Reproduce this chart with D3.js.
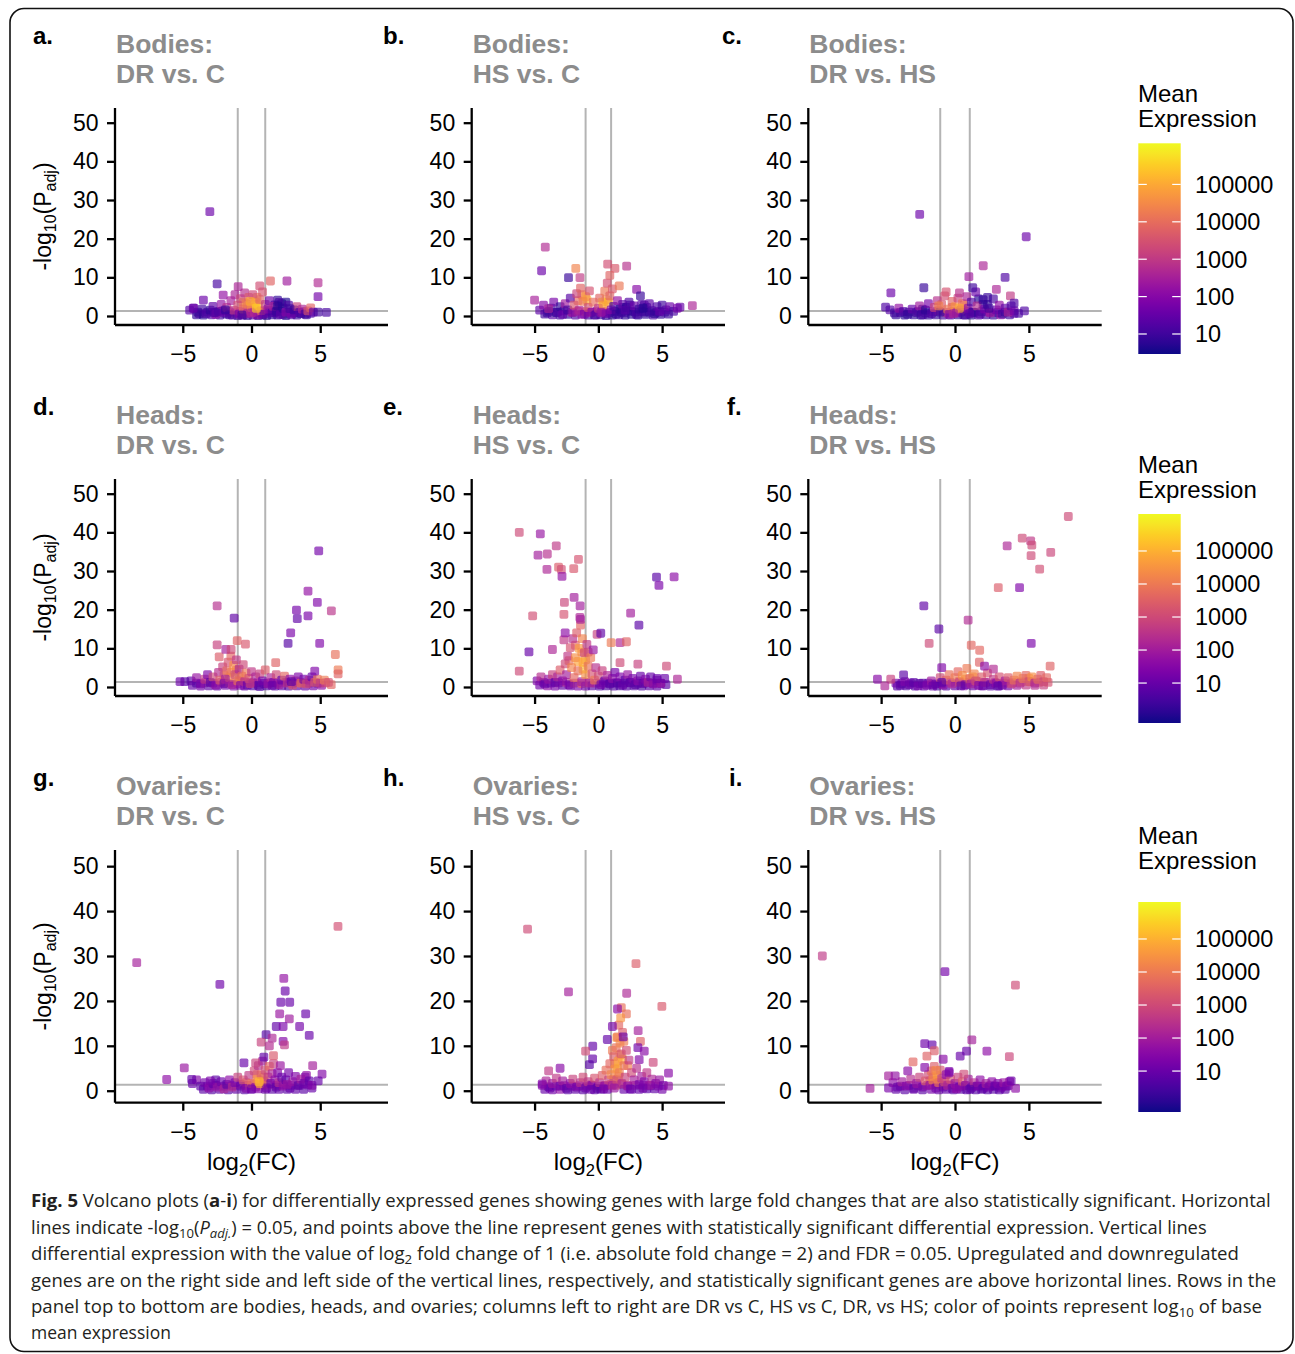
<!DOCTYPE html>
<html><head><meta charset="utf-8">
<script src="https://cdn.jsdelivr.net/npm/d3@7"></script>
<style>body{margin:0;background:#fff}svg{display:block}text{font-family:"Liberation Sans",Arial,Helvetica,sans-serif}</style>
</head><body><svg id="chart" width="1295" height="1354"></svg>
<script>
// ---------- DATA ----------
const panelLetters = ["a.","b.","c.","d.","e.","f.","g.","h.","i."];
const tissues = ["Bodies:","Heads:","Ovaries:"];
const comparisons = ["DR vs. C","HS vs. C","DR vs. HS"];
const xTicks = [-5,0,5];
const yTicks = [0,10,20,30,40,50];
const legendTicks = [10,100,1000,10000,100000];
const padjLine = 0.05;
const fcLines = [-1,1];
// each point: [log2FC, -log10(Padj), log10(mean expression)]
// dense low-significance base of each cloud
const bodiesDRvsCBase = [[-4.0,0.3,0.8],[-3.8,0.6,1.1],[-3.5,0.2,0.7],[-3.2,1.0,0.9],[-2.9,0.3,1.2],[-2.6,0.9,0.7],[-2.3,0.2,1.0],[-2.1,1.3,1.6],[-1.8,0.5,0.8],[-1.6,1.1,2.0],[-1.4,0.2,1.3],[-1.2,0.8,2.4],[-1.0,0.1,1.0],[-0.8,1.2,3.0],[-0.6,0.3,1.6],[-0.5,0.9,2.8],[-0.3,0.1,0.9],[-0.1,1.4,3.4],[0.1,0.2,1.2],[0.3,0.9,2.6],[0.5,0.1,0.8],[0.6,1.2,3.6],[0.8,0.3,1.0],[1.0,1.0,2.2],[1.1,0.1,0.7],[1.3,1.4,1.0],[1.5,0.3,0.8],[1.7,0.9,1.2],[1.9,0.2,0.9],[2.1,1.2,0.8],[2.3,0.4,1.1],[2.5,0.1,0.7],[2.7,1.0,0.9],[2.9,0.3,1.2],[3.1,0.8,0.8],[3.3,0.2,1.0],[3.6,0.6,0.7],[3.8,1.1,1.4],[4.0,0.3,0.9],[4.3,0.7,1.1],[1.7,2.9,0.6],[2.2,3.2,0.7],[2.5,3.6,0.6],[1.9,4.1,0.8],[-0.3,2.5,3.0],[0.4,4.8,4.4],[-0.6,3.6,5.1],[0.2,3.0,4.0]];
const bodiesHSvsCBase = [[-4.2,0.5,1.0],[-3.9,1.2,0.8],[-3.6,0.3,1.3],[-3.3,0.9,0.7],[-3.0,0.2,1.0],[-2.7,1.3,1.6],[-2.4,0.4,0.8],[-2.1,1.0,2.4],[-1.8,0.2,1.2],[-1.6,1.2,3.0],[-1.3,0.4,2.0],[-1.0,1.1,3.6],[-0.8,0.2,1.0],[-0.6,0.9,2.6],[-0.3,0.2,0.9],[-0.1,1.3,2.2],[0.2,0.3,1.0],[0.4,1.0,2.8],[0.6,0.1,0.8],[0.9,0.9,1.4],[1.1,0.2,0.7],[1.3,1.2,0.9],[1.6,0.3,1.0],[1.8,1.0,0.7],[2.1,0.2,0.8],[2.3,1.3,1.1],[2.6,0.4,0.7],[2.9,1.0,0.9],[3.1,0.2,0.7],[3.4,1.2,1.0],[3.7,0.4,0.8],[4.0,1.0,0.7],[4.3,0.2,1.1],[4.6,1.0,0.9],[4.9,0.4,0.8],[5.2,1.0,1.1],[5.5,0.5,0.9],[1.9,2.2,0.9],[2.5,2.8,0.8],[3.6,2.8,1.0],[-1.3,5.5,4.6],[-0.9,4.2,5.2],[0.6,4.2,4.6],[0.3,3.6,5.5],[-1.6,4.0,4.0]];
const bodiesDRvsHSBase = [[-4.0,0.3,0.8],[-3.7,0.9,1.1],[-3.4,0.2,0.7],[-3.1,1.0,1.0],[-2.8,0.3,0.8],[-2.5,1.2,1.3],[-2.3,0.2,0.7],[-2.0,0.8,1.1],[-1.8,0.2,0.8],[-1.5,1.1,1.6],[-1.3,0.3,0.9],[-1.1,1.3,2.4],[-0.8,0.2,1.0],[-0.6,0.9,2.8],[-0.3,0.2,1.2],[-0.1,1.2,3.0],[0.2,0.3,0.8],[0.4,1.0,2.2],[0.7,0.2,1.0],[0.9,1.2,1.6],[1.1,0.2,0.7],[1.3,0.9,0.9],[1.6,0.2,1.2],[1.8,1.1,0.8],[2.1,0.3,1.0],[2.3,1.0,2.0],[2.6,0.2,0.8],[2.9,0.9,1.1],[3.1,0.3,2.2],[3.4,1.0,0.8],[3.7,0.3,1.0],[4.0,0.7,1.4],[-0.2,2.2,4.0],[0.6,2.8,4.4],[1.6,4.4,0.7],[1.9,3.0,0.8],[-2.2,1.8,0.7]];
const headsDRvsCBase = [[-4.3,0.4,1.0],[-4.0,1.0,0.7],[-3.7,0.2,1.2],[-3.4,1.1,2.2],[-3.1,0.3,0.9],[-2.8,1.0,1.6],[-2.5,0.2,1.0],[-2.2,1.2,2.6],[-1.9,0.4,1.2],[-1.6,1.0,3.0],[-1.3,0.2,1.4],[-1.0,0.9,2.2],[-0.8,1.5,3.4],[-0.5,0.2,0.9],[-0.2,1.2,2.6],[0.1,0.3,0.7],[0.4,1.1,1.8],[0.6,0.1,0.6],[0.9,0.9,1.0],[1.1,0.3,0.7],[1.4,1.1,1.4],[1.7,0.2,0.8],[1.9,1.0,2.0],[2.2,0.3,0.9],[2.5,1.2,1.2],[2.7,0.2,0.7],[3.0,1.0,1.4],[3.3,0.3,0.9],[3.6,1.1,2.4],[3.9,0.2,1.0],[4.2,1.0,1.8],[4.5,0.3,1.2],[4.8,1.0,0.9],[5.1,0.4,1.6],[5.4,1.1,3.0],[5.8,0.6,3.6],[-1.5,3.8,4.6],[-1.1,4.4,3.8],[-2.0,3.0,4.2],[-0.9,2.4,4.8]];
const headsHSvsCBase = [[-4.6,0.5,1.2],[-4.3,1.2,0.9],[-4.0,0.3,1.6],[-3.7,1.0,0.8],[-3.4,0.2,1.3],[-3.1,1.1,1.8],[-2.8,0.4,0.9],[-2.5,1.2,2.4],[-2.2,0.3,1.1],[-1.9,1.0,3.0],[-1.6,0.2,1.4],[-1.3,0.9,3.4],[-1.0,0.2,1.2],[-0.7,1.2,2.6],[-0.5,0.3,0.8],[-0.2,1.0,2.0],[0.1,0.2,0.7],[0.4,1.1,1.2],[0.6,0.3,0.6],[0.9,1.0,0.9],[1.2,0.2,0.7],[1.4,1.1,1.0],[1.7,0.3,0.6],[2.0,1.0,0.8],[2.2,0.2,0.7],[2.5,1.1,0.9],[2.8,0.3,0.7],[3.1,1.0,0.8],[3.4,0.2,0.6],[3.7,1.1,1.0],[4.0,0.3,0.8],[4.3,1.0,0.7],[4.6,0.2,0.9],[4.9,0.9,1.2],[5.3,0.6,0.8],[-1.6,6.6,4.8],[-1.3,9.0,4.4],[-1.0,7.0,5.0],[-1.8,10.8,3.6],[-1.2,4.6,5.4],[-2.3,6.8,3.8],[-0.8,9.0,3.0]];
const headsDRvsHSBase = [[-3.9,0.2,0.8],[-3.6,0.9,1.0],[-3.3,0.3,0.7],[-3.0,1.0,1.1],[-2.7,0.2,0.8],[-2.4,0.9,0.7],[-2.1,0.2,1.0],[-1.8,1.0,0.8],[-1.5,0.6,1.2],[-1.2,0.2,0.7],[-0.9,0.8,1.0],[-0.6,0.2,0.8],[-0.3,1.2,2.4],[0,0.3,1.0],[0.3,1.5,3.2],[0.6,0.3,1.4],[0.9,1.2,2.8],[1.2,0.3,1.0],[1.5,1.4,3.0],[1.8,0.3,1.2],[2.1,1.2,2.2],[2.4,0.2,0.8],[2.7,1.1,1.8],[3.0,0.3,1.0],[3.3,1.0,2.6],[3.6,0.3,1.2],[3.9,1.1,3.0],[4.2,0.4,2.0],[4.5,1.3,3.6],[4.8,0.5,2.6],[5.1,1.3,3.8],[5.4,0.4,2.4],[5.7,1.2,3.4],[6.0,0.5,2.8],[6.3,1.2,3.2],[0.7,2.0,4.4],[1.2,2.6,4.6],[5.0,2.2,4.6]];
const ovariesDRvsCBase = [[-3.5,0.3,0.8],[-3.2,1.0,1.0],[-2.9,0.2,0.7],[-2.6,1.2,1.2],[-2.3,0.3,0.8],[-2.0,1.0,1.0],[-1.7,0.2,0.7],[-1.4,1.1,1.4],[-1.1,0.3,0.9],[-0.8,1.4,2.0],[-0.5,0.2,0.8],[-0.3,1.2,2.6],[0,0.3,1.0],[0.2,1.5,3.0],[0.5,0.4,1.4],[0.7,1.2,3.4],[1.0,0.3,1.0],[1.2,1.3,2.4],[1.5,0.3,0.8],[1.8,1.2,1.8],[2.0,0.3,0.9],[2.3,1.3,1.4],[2.6,0.3,0.8],[2.9,1.2,1.2],[3.2,0.3,0.9],[3.5,1.2,1.4],[3.8,0.3,0.8],[4.1,1.3,1.2],[4.4,0.6,1.0],[-2.6,2.4,0.8],[3.9,3.0,1.2],[0.4,3.6,4.0],[0.9,3.0,4.4],[-0.4,1.8,3.8]];
const ovariesHSvsCBase = [[-4.2,0.3,1.0],[-3.9,0.9,0.8],[-3.6,0.2,1.2],[-3.3,1.0,0.8],[-3.0,0.3,1.6],[-2.7,1.1,1.0],[-2.4,0.2,0.8],[-2.1,1.0,1.4],[-1.8,0.3,0.9],[-1.5,1.1,1.8],[-1.2,0.2,0.8],[-0.9,1.0,1.6],[-0.6,1.3,2.2],[-0.3,0.2,0.8],[0,1.0,1.4],[0.2,0.3,0.7],[0.5,1.2,2.4],[0.7,0.3,1.0],[1.0,1.4,3.4],[1.2,2.6,4.0],[1.4,1.2,3.6],[1.6,3.2,4.4],[1.8,1.4,3.0],[2.0,0.3,1.0],[2.3,1.2,2.6],[2.6,0.3,1.0],[2.9,1.2,1.8],[3.2,0.3,0.9],[3.5,1.2,1.4],[3.8,0.4,0.8],[4.1,1.1,1.2],[4.4,0.4,0.9],[4.7,1.0,1.4],[5.0,0.3,1.2],[1.3,6.0,4.8],[1.7,8.0,4.6],[1.5,5.0,5.4],[2.0,11.0,4.0],[1.9,7.0,5.0],[1.1,9.0,4.0],[2.3,5.6,4.2],[1.45,11.8,4.6]];
const ovariesDRvsHSBase = [[-4.0,0.3,0.9],[-3.7,1.0,1.2],[-3.4,0.2,0.8],[-3.1,1.2,1.4],[-2.8,0.3,1.0],[-2.5,1.1,1.6],[-2.2,0.2,0.8],[-1.9,1.2,2.2],[-1.6,0.3,1.2],[-1.4,1.4,3.0],[-1.1,0.2,1.0],[-0.9,1.2,2.4],[-0.6,0.3,0.9],[-0.4,1.3,2.0],[-0.1,0.2,0.8],[0.1,1.0,1.4],[0.4,0.3,0.7],[0.6,1.1,2.6],[0.8,0.2,0.8],[1.2,1.0,1.0],[1.4,0.2,0.7],[1.6,1.0,1.2],[1.8,0.3,0.8],[2.0,1.0,1.0],[2.2,0.2,0.7],[2.4,1.1,1.2],[2.6,0.3,0.8],[2.8,1.0,1.0],[3.0,0.2,0.8],[3.2,1.0,1.4],[3.4,0.3,0.9],[3.6,1.1,1.2],[-1.5,3.0,4.6],[-1.2,2.4,4.0],[-1.7,2.2,3.6]];
// cloud and outlying genes
const bodiesDRvsC = [[-4.5,1.5,1.3],[-4.2,2.0,1.6],[-3.9,1.0,0.9],[-3.6,1.8,1.0],[-3.3,0.6,1.2],[-3.0,1.5,0.8],[-2.8,2.5,1.4],[-2.6,0.4,2.0],[-2.4,1.2,1.0],[-2.2,3.0,2.2],[-2.0,0.8,1.5],[-1.8,2.2,2.8],[-1.6,0.3,1.1],[-1.5,4.0,2.5],[-1.3,1.5,3.0],[-1.2,5.5,2.6],[-1.0,2.8,3.4],[-0.9,0.5,1.8],[-0.8,4.5,3.2],[-0.6,1.8,3.9],[-0.5,6.0,2.8],[-0.4,3.2,4.2],[-0.3,0.6,2.3],[-0.2,4.8,3.6],[0,2.2,4.6],[0.1,5.5,3.3],[0.2,1.0,3.0],[0.3,3.5,4.9],[0.4,0.3,2.0],[0.5,2.6,5.2],[0.6,4.2,3.8],[0.7,1.4,4.0],[0.8,6.2,3.5],[0.9,0.5,1.5],[1.0,3.0,3.0],[1.2,1.8,2.2],[1.3,4.0,1.6],[1.5,0.8,1.2],[1.6,2.5,2.6],[1.8,1.2,0.9],[2.0,3.5,1.1],[2.1,0.4,1.4],[2.3,2.0,0.8],[2.5,1.0,2.0],[2.7,2.8,1.2],[2.9,0.6,1.7],[3.1,1.6,0.9],[3.3,2.4,3.2],[3.5,0.9,1.3],[3.7,1.8,2.6],[3.9,0.5,1.0],[4.1,1.3,3.5],[4.3,2.1,3.8],[4.5,1.0,1.5],[-0.7,0.2,1.0],[-1.9,1.6,0.9],[1.9,2.6,0.7],[0.0,0.8,2.6],[-2.7,0.9,1.2],[2.8,1.9,1.0],[-0.1,3.8,5.0],[0.35,2.0,5.5],
 [-3.03,27.0,1.6],[-2.5,8.3,1.1],[1.38,9.05,3.8],[2.58,9.05,2.4],[4.84,8.6,2.7],[4.84,5.0,1.7],[-2.06,5.4,2.2],[-3.5,4.1,1.6],[-4.24,2.0,1.5],[5.45,0.96,1.1],[4.84,1.0,1.0],[-0.97,7.6,2.6],[0.6,7.8,3.4]];
const bodiesHSvsC = [[-4.6,1.5,1.4],[-4.3,2.8,2.0],[-4.0,0.8,1.0],[-3.7,2.0,0.9],[-3.5,3.6,1.8],[-3.2,1.0,1.2],[-3.0,2.4,0.8],[-2.8,0.4,1.5],[-2.6,3.2,2.4],[-2.4,1.6,1.0],[-2.2,4.6,1.3],[-2.0,0.9,2.2],[-1.9,2.8,3.6],[-1.7,5.8,3.2],[-1.5,1.5,2.6],[-1.4,7.2,3.8],[-1.2,3.8,4.2],[-1.1,0.5,1.8],[-1.0,5.0,4.6],[-0.8,2.2,3.4],[-0.7,6.5,3.5],[-0.5,1.0,2.0],[-0.4,3.6,4.0],[-0.2,0.3,1.2],[0,2.0,3.0],[0.1,4.6,3.8],[0.3,1.2,2.6],[0.4,2.8,4.8],[0.5,6.4,4.2],[0.6,0.6,1.6],[0.7,8.5,3.4],[0.8,3.5,5.0],[0.9,5.2,3.8],[1.0,1.6,2.0],[1.1,7.0,3.6],[1.2,2.5,1.1],[1.4,0.5,0.9],[1.5,4.0,2.2],[1.7,1.8,0.8],[1.9,3.0,1.4],[2.0,0.8,1.0],[2.2,2.2,0.7],[2.4,3.6,1.2],[2.6,1.2,0.9],[2.8,2.6,1.6],[3.0,0.4,1.1],[3.2,1.8,0.8],[3.4,3.0,1.3],[3.6,1.0,1.0],[3.8,2.2,0.9],[4.0,3.2,1.4],[4.2,1.4,1.1],[4.4,0.6,0.8],[4.6,2.4,1.2],[4.8,1.2,1.5],[5.0,2.8,1.0],[5.3,1.6,1.3],[5.6,2.4,1.6],[5.9,1.2,1.1],[6.2,2.0,1.8],[-3.9,1.9,2.6],[0.2,0.9,2.2],[2.1,1.5,1.3],[3.5,2.0,0.7],
 [-4.16,17.8,2.7],[-4.45,11.7,1.6],[-1.77,12.3,4.4],[-2.34,9.9,0.9],[-1.44,9.9,3.0],[0.73,13.4,3.4],[1.3,12.3,3.6],[2.22,12.9,2.8],[0.9,10.5,3.8],[1.64,7.8,4.2],[3.0,6.9,2.0],[7.37,2.7,2.6],[-5.0,4.1,2.5],[6.4,2.3,1.5],[3.3,5.2,0.9]];
const bodiesDRvsHS = [[-4.4,1.6,1.3],[-4.1,0.8,1.0],[-3.8,2.0,2.2],[-3.5,1.2,1.2],[-3.2,0.4,0.8],[-2.9,1.8,1.5],[-2.6,0.9,1.0],[-2.4,2.6,2.4],[-2.2,0.3,1.1],[-2.0,1.5,0.8],[-1.8,3.2,1.8],[-1.6,0.6,1.2],[-1.4,2.2,3.2],[-1.2,4.0,2.8],[-1.0,1.0,0.9],[-0.9,3.0,3.6],[-0.7,5.2,3.4],[-0.5,1.8,4.2],[-0.4,0.4,2.0],[-0.2,3.8,3.8],[0,2.4,4.6],[0.1,0.8,1.8],[0.2,4.6,3.2],[0.4,1.6,3.0],[0.5,3.2,4.0],[0.6,0.3,1.0],[0.8,5.0,2.6],[0.9,2.0,2.2],[1.1,3.6,1.2],[1.2,1.0,0.8],[1.4,6.2,1.6],[1.5,2.6,2.8],[1.7,0.5,1.3],[1.9,4.2,0.9],[2.0,1.8,1.8],[2.2,3.0,0.8],[2.4,0.8,2.4],[2.6,4.4,1.1],[2.8,1.6,1.6],[3.0,2.8,2.2],[3.2,0.5,1.0],[3.4,2.0,1.4],[3.6,1.0,2.6],[3.8,2.6,1.2],[4.0,1.3,1.7],[4.3,0.7,1.1],[-1.1,2.6,4.4],[0.3,2.0,5.0],[-0.1,0.6,2.6],[1.0,0.6,1.4],[2.3,2.0,1.0],
 [-2.39,26.3,1.6],[4.82,20.5,1.6],[1.91,13.0,2.6],[3.39,10.0,1.2],[0.94,10.2,2.4],[-2.11,7.3,0.9],[-4.34,6.0,1.6],[1.2,7.3,1.0],[2.8,6.9,2.6],[3.75,5.2,3.0],[4.0,3.3,1.2],[4.7,1.3,1.2],[-4.7,2.3,1.2],[-0.6,6.2,3.5],[0.3,6.0,2.8],[2.2,4.8,0.9]];
const headsDRvsC = [[-4.4,1.6,0.9],[-4.0,2.4,1.8],[-3.7,0.8,1.2],[-3.4,2.0,2.6],[-3.2,3.2,1.4],[-3.0,1.2,0.8],[-2.8,2.6,3.0],[-2.6,0.5,1.6],[-2.4,3.8,2.4],[-2.3,1.8,3.4],[-2.1,5.2,2.8],[-2.0,0.9,1.0],[-1.8,4.2,3.6],[-1.7,6.4,3.2],[-1.6,2.4,4.2],[-1.5,8.0,3.6],[-1.4,0.6,2.0],[-1.3,5.6,4.4],[-1.2,3.2,3.0],[-1.1,7.0,2.6],[-1.0,1.6,3.8],[-0.9,4.6,2.2],[-0.8,0.4,1.4],[-0.7,2.8,3.6],[-0.6,5.8,3.0],[-0.5,1.4,2.4],[-0.4,3.6,4.0],[-0.3,0.5,1.0],[-0.2,2.2,3.2],[0,4.0,2.6],[0.1,1.0,1.6],[0.3,2.6,2.2],[0.5,0.4,0.8],[0.6,3.4,2.8],[0.8,1.6,1.2],[1.0,4.4,3.4],[1.2,0.8,1.8],[1.4,2.4,2.2],[1.6,1.2,1.4],[1.8,3.2,3.0],[2.0,0.6,2.0],[2.2,1.8,1.0],[2.4,2.8,3.6],[2.6,1.0,2.6],[2.8,2.0,1.6],[3.0,0.5,3.2],[3.2,1.6,2.4],[3.4,2.6,1.4],[3.6,1.0,3.8],[3.8,2.0,1.2],[4.0,0.8,3.0],[4.2,1.8,2.2],[4.4,2.6,1.0],[4.6,1.2,3.4],[4.8,2.0,3.8],[5.0,1.0,2.6],[5.3,1.8,4.0],[5.6,1.2,3.2],[-1.9,2.0,2.0],[-0.1,0.9,2.8],[1.5,0.4,1.0],[2.9,1.4,0.8],
 [4.89,35.2,1.2],[4.11,24.8,1.7],[4.79,21.9,1.4],[3.27,19.9,1.2],[4.11,18.4,1.3],[5.81,19.7,2.5],[3.33,17.7,0.9],[2.85,14.0,1.3],[2.66,11.3,0.7],[4.96,11.3,1.4],[6.1,8.4,3.8],[6.3,4.4,4.0],[6.3,3.4,3.5],[-2.5,21.0,2.4],[-1.26,17.8,0.9],[-2.5,10.9,2.8],[-1.04,12.0,3.5],[-0.44,11.1,3.3],[-2.35,7.8,3.4],[-1.87,9.75,2.0],[-1.48,9.7,3.0],[1.76,6.3,3.5],[4.6,4.1,1.4],[-4.85,1.4,0.7],[-5.2,1.4,1.1]];
const headsHSvsC = [[-4.8,1.6,1.4],[-4.5,2.6,2.4],[-4.2,0.8,1.0],[-3.9,2.0,1.8],[-3.6,3.2,2.8],[-3.4,1.2,0.9],[-3.2,2.6,2.2],[-3.0,4.4,3.4],[-2.8,1.6,1.4],[-2.6,6.0,3.0],[-2.5,3.2,2.0],[-2.4,8.0,2.6],[-2.3,0.6,1.2],[-2.2,10.2,3.2],[-2.1,5.0,4.2],[-2.0,12.5,2.4],[-1.9,2.4,3.6],[-1.8,7.6,4.4],[-1.7,14.0,3.4],[-1.6,4.2,3.8],[-1.5,10.0,4.6],[-1.4,16.0,3.6],[-1.3,1.4,2.0],[-1.25,12.5,4.2],[-1.2,6.4,4.8],[-1.1,8.8,3.0],[-1.0,3.2,4.4],[-0.9,11.0,2.6],[-0.8,5.4,3.8],[-0.7,1.0,2.2],[-0.6,7.6,4.0],[-0.5,3.4,3.2],[-0.4,9.6,1.8],[-0.3,1.8,4.0],[-0.2,5.0,2.4],[0,2.8,3.0],[0.2,0.6,1.2],[0.3,4.2,2.8],[0.5,1.6,1.0],[0.7,3.0,2.2],[0.9,0.8,0.8],[1.1,2.2,1.6],[1.3,3.8,1.2],[1.5,1.0,0.7],[1.7,2.6,1.4],[1.9,0.5,1.0],[2.1,1.8,0.8],[2.3,3.2,1.8],[2.5,1.2,0.9],[2.7,2.2,1.2],[2.9,0.6,0.8],[3.1,1.6,1.6],[3.3,2.8,1.0],[3.5,0.9,0.9],[3.7,2.0,1.4],[3.9,1.2,2.2],[4.1,2.6,1.0],[4.3,0.8,1.6],[4.6,1.8,1.2],[4.9,1.0,1.8],[5.2,2.2,1.0],[-0.1,13.6,2.8],[-1.45,18.0,2.2],[-2.7,12.2,2.6],
 [-6.2,40.0,3.0],[-4.55,39.6,1.8],[-3.3,36.5,2.6],[-4.73,34.1,2.0],[-4.0,34.4,2.4],[-1.56,33.0,3.2],[-3.12,31.0,3.4],[-2.9,30.4,3.1],[-4.03,30.4,2.2],[-2.85,28.6,1.7],[-1.93,30.6,3.3],[-1.9,23.2,2.0],[-2.66,21.9,2.9],[-1.43,21.0,2.0],[-5.15,18.4,3.1],[-2.7,18.8,3.2],[-1.4,17.5,2.0],[4.56,28.4,0.8],[5.94,28.5,1.6],[4.75,26.3,1.3],[2.53,19.1,2.0],[3.18,16.0,0.8],[0.19,13.9,0.9],[1.7,11.5,2.2],[2.2,11.7,3.5],[1.0,11.5,4.0],[-5.44,9.1,1.0],[-3.6,9.7,2.2],[-6.2,4.1,3.0],[5.34,5.4,3.0],[6.2,2.0,2.2],[4.6,2.2,1.0],[3.1,5.9,2.8],[1.7,6.3,3.0],[-2.6,14.0,1.6]];
const headsDRvsHS = [[-4.0,1.0,1.2],[-3.7,0.4,0.8],[-3.4,1.4,1.4],[-3.1,0.6,1.0],[-2.8,1.2,0.8],[-2.5,0.3,1.2],[-2.2,1.0,0.9],[-1.9,0.5,1.4],[-1.6,1.6,2.0],[-1.3,0.8,1.0],[-1.0,2.4,3.0],[-0.8,0.5,1.6],[-0.6,1.8,3.4],[-0.4,3.2,3.8],[-0.2,0.8,2.2],[0,2.4,4.0],[0.2,4.0,3.6],[0.3,1.2,2.8],[0.5,3.0,4.4],[0.7,0.6,1.2],[0.8,4.8,4.0],[1.0,2.2,3.6],[1.1,0.8,2.0],[1.3,3.4,4.2],[1.4,1.6,3.0],[1.6,0.4,1.4],[1.8,2.6,3.4],[2.0,1.2,2.4],[2.2,3.6,3.2],[2.4,0.6,1.0],[2.6,2.0,2.6],[2.8,1.0,1.6],[3.0,2.6,3.2],[3.2,0.5,1.2],[3.4,1.6,2.0],[3.6,2.4,3.4],[3.8,0.8,2.8],[4.0,1.8,3.8],[4.2,2.8,4.2],[4.4,1.0,2.4],[4.6,2.2,4.0],[4.8,3.0,3.6],[5.0,1.4,3.0],[5.2,2.6,4.4],[5.4,1.0,2.2],[5.6,2.0,3.8],[5.8,3.0,3.4],[6.0,1.4,3.0],[6.2,2.4,3.6],[-0.9,1.2,0.8],[0.4,0.3,0.9],[1.9,0.3,1.0],[2.9,0.2,0.8],[-1.5,0.2,1.0],
 [7.67,44.1,3.0],[4.55,38.5,3.0],[5.12,37.8,2.6],[5.2,36.7,3.0],[3.53,36.5,2.2],[6.48,34.8,2.9],[5.15,34.0,3.0],[5.73,30.5,3.1],[2.93,25.7,3.4],[4.37,25.7,1.4],[-2.11,21.0,0.9],[-1.09,15.0,0.8],[0.89,17.3,2.3],[-1.75,11.3,3.0],[5.16,11.3,1.3],[1.1,10.8,3.6],[1.67,9.5,3.6],[1.65,6.4,3.5],[2.6,4.6,2.3],[6.44,5.4,3.5],[-0.9,5.0,1.4],[-3.48,3.1,0.8],[-5.25,2.0,1.5],[-4.35,2.0,2.8],[-4.75,0.3,2.2],[2.0,5.4,1.6]];
const ovariesDRvsC = [[-4.3,1.6,1.0],[-4.0,2.4,1.4],[-3.7,1.0,0.8],[-3.4,1.8,1.2],[-3.1,0.6,1.6],[-2.8,1.6,0.9],[-2.5,0.8,1.8],[-2.2,2.0,1.1],[-2.0,0.4,2.2],[-1.8,1.4,0.8],[-1.6,2.4,1.6],[-1.4,0.8,2.4],[-1.2,1.8,1.2],[-1.0,3.0,2.8],[-0.8,1.0,1.0],[-0.6,2.4,3.2],[-0.4,0.5,1.4],[-0.2,3.4,2.6],[0,1.6,3.6],[0.2,4.4,3.0],[0.3,0.8,1.6],[0.4,2.6,4.2],[0.5,5.6,2.4],[0.6,1.6,4.8],[0.7,3.6,3.4],[0.8,6.6,2.0],[0.9,2.2,3.8],[1.0,4.6,3.0],[1.1,0.6,1.2],[1.2,3.0,2.6],[1.3,5.4,3.6],[1.4,1.6,1.0],[1.5,3.8,2.2],[1.6,6.0,2.8],[1.7,2.4,1.6],[1.8,0.8,0.9],[1.9,4.0,1.4],[2.0,1.8,2.4],[2.1,5.6,1.8],[2.2,3.0,1.0],[2.3,1.0,1.6],[2.5,2.4,0.9],[2.7,4.0,1.2],[2.8,0.6,1.0],[3.0,2.0,1.8],[3.2,3.2,1.4],[3.4,1.2,0.8],[3.6,2.6,2.0],[3.8,1.6,1.1],[4.0,3.4,1.6],[4.2,2.2,0.9],[4.4,1.2,1.4],[-3.0,2.2,1.3],[0.0,0.4,1.2],[2.6,1.4,1.8],[0.55,2.0,5.2],
 [6.29,36.6,3.1],[-8.35,28.5,2.0],[-2.3,23.7,1.1],[2.35,25.0,1.7],[2.45,22.2,1.0],[2.13,19.7,1.0],[2.78,19.7,1.0],[2.05,17.1,1.8],[2.75,16.0,1.9],[3.94,17.1,1.0],[3.5,14.3,1.2],[4.2,12.3,1.0],[1.8,14.3,0.9],[2.3,14.3,1.3],[1.06,12.5,0.7],[1.5,11.7,2.2],[0.7,10.8,2.8],[1.3,10.0,2.3],[2.3,11.0,1.4],[2.4,10.2,2.6],[-4.89,5.1,1.8],[-6.17,2.5,1.6],[-4.35,2.5,0.9],[-0.55,6.2,1.0],[5.13,3.7,1.4],[4.45,5.6,2.0],[4.85,2.2,1.0],[0.9,7.5,0.9],[0.3,6.2,2.8],[1.6,7.8,3.3]];
const ovariesHSvsC = [[-4.4,1.2,1.4],[-4.1,2.2,2.2],[-3.8,0.6,1.0],[-3.6,1.6,1.8],[-3.3,2.8,2.6],[-3.0,1.0,1.2],[-2.8,2.2,2.0],[-2.5,0.5,0.9],[-2.2,1.6,1.6],[-2.0,2.6,2.8],[-1.7,0.8,1.2],[-1.4,1.8,2.4],[-1.2,3.0,3.0],[-1.0,0.6,1.0],[-0.8,2.0,2.6],[-0.5,1.2,1.4],[-0.3,2.8,3.2],[-0.1,0.5,0.8],[0.1,1.8,2.4],[0.3,3.4,3.4],[0.5,1.0,1.6],[0.6,4.6,3.8],[0.8,2.4,2.8],[0.9,6.0,3.6],[1.0,3.6,4.2],[1.1,1.2,2.0],[1.2,7.6,3.4],[1.3,4.8,4.4],[1.4,9.6,3.8],[1.45,2.4,3.0],[1.5,12.0,4.0],[1.55,6.6,4.6],[1.6,14.6,3.6],[1.65,4.0,4.0],[1.7,10.6,4.2],[1.8,8.2,3.2],[1.85,1.6,2.2],[1.9,13.0,3.4],[2.0,5.6,3.8],[2.1,3.0,2.8],[2.2,9.0,3.0],[2.3,1.0,1.6],[2.4,6.8,2.6],[2.6,4.0,3.0],[2.8,2.4,2.0],[3.0,5.0,2.4],[3.2,1.4,1.2],[3.4,3.2,2.0],[3.6,2.0,1.4],[3.8,4.0,2.6],[4.0,1.2,1.8],[4.2,2.6,2.2],[4.5,1.6,1.4],[4.8,2.4,1.8],[5.1,1.2,1.2],[0.4,0.4,1.2],[-0.6,0.3,1.0],[2.5,0.4,1.0],[1.25,0.6,1.8],[3.5,0.6,1.2],
 [-5.55,36.0,3.0],[2.95,28.3,3.4],[-2.34,22.0,2.0],[2.22,21.7,2.2],[4.98,18.8,3.3],[1.8,18.5,3.8],[1.5,18.2,1.5],[2.2,17.1,3.8],[1.75,16.2,4.5],[3.12,13.4,2.0],[1.1,14.3,1.2],[1.95,12.0,1.0],[0.7,11.4,0.9],[-0.44,9.9,0.9],[3.3,11.0,3.5],[3.1,9.6,1.1],[3.6,8.8,1.5],[-1.0,8.8,3.0],[-0.45,7.1,0.9],[-0.7,5.8,0.7],[3.2,6.9,1.4],[4.3,6.3,2.9],[5.5,3.9,1.5],[5.5,1.0,1.6],[-3.0,5.0,1.5],[-3.9,4.4,2.6],[-4.4,1.5,1.4]];
const ovariesDRvsHS = [[-4.2,1.8,1.6],[-3.9,0.8,1.0],[-3.6,2.0,2.0],[-3.3,1.0,1.4],[-3.0,2.6,2.4],[-2.8,0.5,0.9],[-2.6,1.6,1.8],[-2.4,3.0,2.8],[-2.2,0.8,1.2],[-2.0,2.2,3.4],[-1.8,3.6,3.0],[-1.7,1.2,1.6],[-1.6,4.4,3.8],[-1.5,2.4,4.2],[-1.4,5.4,3.4],[-1.3,0.6,1.2],[-1.2,3.4,4.6],[-1.1,1.8,3.8],[-1.0,4.6,3.2],[-0.9,2.8,2.6],[-0.8,0.8,1.0],[-0.7,2.0,3.0],[-0.6,3.6,1.6],[-0.5,1.2,2.2],[-0.3,2.6,3.2],[-0.2,0.5,1.0],[0,1.6,1.8],[0.2,3.0,2.8],[0.3,0.8,1.0],[0.5,2.0,3.4],[0.7,1.2,1.4],[0.9,2.6,2.0],[1.1,0.6,1.0],[1.3,1.8,2.4],[1.5,1.0,1.2],[1.7,2.4,1.6],[1.9,0.5,0.9],[2.1,1.6,2.0],[2.3,0.8,1.2],[2.5,2.0,1.6],[2.7,1.0,0.9],[2.9,1.6,1.4],[3.1,0.6,1.1],[3.3,1.8,1.8],[3.5,1.0,1.2],[3.7,2.0,1.6],[-4.5,0.6,1.3],[-0.4,4.0,1.4],[0.1,0.4,1.6],[1.0,0.3,0.8],
 [-8.98,30.0,2.6],[-0.68,26.5,1.2],[4.09,23.5,3.0],[1.14,11.3,2.0],[-2.05,10.5,1.1],[-1.55,10.2,0.9],[2.16,8.8,1.6],[3.68,7.6,2.9],[0.78,8.8,1.0],[0.35,7.7,1.0],[-1.4,8.9,3.4],[-1.9,7.7,3.5],[-2.84,6.4,3.6],[-0.8,7.0,1.5],[-2.05,5.2,1.4],[-3.2,4.4,1.5],[-4.5,3.3,2.0],[-4.05,3.3,1.7],[-5.75,0.5,2.0],[4.1,0.5,1.6],[3.8,2.2,1.1],[-1.3,4.5,4.3],[-0.4,4.3,1.3],[0.6,3.7,3.0]];
const panelBase = [bodiesDRvsCBase, bodiesHSvsCBase, bodiesDRvsHSBase, headsDRvsCBase, headsHSvsCBase, headsDRvsHSBase, ovariesDRvsCBase, ovariesHSvsCBase, ovariesDRvsHSBase];
const panelData = [bodiesDRvsC, bodiesHSvsC, bodiesDRvsHS, headsDRvsC, headsHSvsC, headsDRvsHS, ovariesDRvsC, ovariesHSvsC, ovariesDRvsHS];
// log10 colour range of each row's colour bar
const colorRange = [[0.465,6.1],[-0.21,6.12],[-0.24,6.12]];
const yRange = [[-2.33,53.8],[-2.33,53.8],[-2.67,53.6]];
const xRange = [-9.93,9.93];

// ---------- LAYOUT ----------
const svg = d3.select("#chart");
svg.append("rect").attr("x",10).attr("y",8.5).attr("width",1283).attr("height",1343).attr("rx",14)
  .attr("fill","#fff").attr("stroke","#111").attr("stroke-width",1.6);

const colPx = [[115,388],[471.7,725],[808.3,1101.7]];
const rowPx = [[108,325],[479,696],[850,1102.7]];
const rowTop = [0,371,742];
const letterX = [33,383,722,33,383,727,33,383,729];
const barPx = [[143.3,354],[514,723],[902,1112]];

const defs = svg.append("defs");
const grad = defs.append("linearGradient").attr("id","plasmaGrad").attr("x1",0).attr("y1",1).attr("x2",0).attr("y2",0);
d3.range(0,1.0001,0.05).forEach(t=>grad.append("stop").attr("offset",t).attr("stop-color",d3.interpolatePlasma(t)));

function subText(sel, parts, subSize, shiftAmt){
  let shift=0;
  parts.forEach(([txt,fl])=>{
    fl = fl||"";
    const ts = sel.append("tspan").text(txt);
    const target = fl.includes("S") ? shiftAmt : 0;
    if(target!==shift){ ts.attr("dy", target-shift); shift=target; }
    if(fl.includes("S")) ts.style("font-size", subSize+"px");
    if(fl.includes("B")) ts.style("font-weight","bold");
    if(fl.includes("I")) ts.style("font-style","italic");
  });
}

for(let r=0;r<3;r++){
  const cs = colorRange[r];
  const color = v => d3.interpolatePlasma(Math.max(0,Math.min(1,(v-cs[0])/(cs[1]-cs[0]))));
  for(let c=0;c<3;c++){
    const idx = r*3+c;
    const data = panelBase[idx].concat(panelData[idx]);
    const [l,rr] = colPx[c];
    const [t,b] = rowPx[r];
    const xs = d3.scaleLinear().domain(xRange).range([l,rr]);
    const ys = d3.scaleLinear().domain(yRange[r]).range([b,t]);
    const g = svg.append("g");
    svg.append("text").attr("x",letterX[idx]).attr("y",44+rowTop[r]).text(panelLetters[idx])
      .style("font-weight","bold").style("font-size","24px").attr("fill","#000");
    svg.append("text").attr("x",l+1).attr("y",53.3+rowTop[r]).text(tissues[r])
      .style("font-weight","bold").style("font-size","26.5px").attr("fill","#8c8c8c");
    svg.append("text").attr("x",l+1).attr("y",83.3+rowTop[r]).text(comparisons[c])
      .style("font-weight","bold").style("font-size","26.5px").attr("fill","#8c8c8c");
    fcLines.forEach(v=>g.append("line").attr("x1",xs(v)).attr("x2",xs(v)).attr("y1",t).attr("y2",b)
      .attr("stroke","#b4b4b4").attr("stroke-width",2));
    g.append("line").attr("x1",l).attr("x2",rr).attr("y1",ys(-Math.log10(padjLine))).attr("y2",ys(-Math.log10(padjLine)))
      .attr("stroke","#b4b4b4").attr("stroke-width",2);
    const s=8.8;
    g.selectAll("rect.pt").data(data).join("rect").attr("class","pt")
      .attr("x",d=>xs(d[0])-s/2).attr("y",d=>ys(d[1])-s/2).attr("width",s).attr("height",s).attr("rx",1.8)
      .attr("fill",d=>color(d[2])).attr("fill-opacity",0.66);
    const ax = g.append("g").attr("transform",`translate(0,${b})`)
      .call(d3.axisBottom(xs).tickValues(xTicks).tickSize(8).tickSizeOuter(0).tickPadding(12.5));
    const ay = g.append("g").attr("transform",`translate(${l},0)`)
      .call(d3.axisLeft(ys).tickValues(yTicks).tickSize(8).tickSizeOuter(0).tickPadding(8.5));
    [ax,ay].forEach(a=>{
      a.select(".domain").attr("stroke","#000").attr("stroke-width",2.3);
      a.selectAll(".tick line").attr("stroke","#000").attr("stroke-width",2.3);
      a.selectAll(".tick text").attr("fill","#000").style("font-size","23px").style("font-family",'"Liberation Sans",Arial,sans-serif');
    });
    ay.select(".domain").attr("d",`M0,${t}V${b}`);
    ax.select(".domain").attr("d",`M${l},0H${rr}`);
    if(c===0){
      const yt = svg.append("text").attr("transform",`translate(50.5,${(t+b)/2}) rotate(-90)`)
        .attr("text-anchor","middle").style("font-size","23px").attr("fill","#000");
      subText(yt,[["-log"],["10","S"],["(P"],["adj","S"],[")"]],16,5.5);
    }
    if(r===2){
      const xt = svg.append("text").attr("x",(l+rr)/2).attr("y",1170)
        .attr("text-anchor","middle").style("font-size","24px").attr("fill","#000");
      subText(xt,[["log"],["2","S"],["(FC)"]],16.5,5.5);
    }
  }
  const [bt,bb] = barPx[r];
  const ly = d3.scaleLinear().domain(cs).range([bb,bt]);
  svg.append("text").attr("x",1138).attr("y",101.7+rowTop[r]).text("Mean").style("font-size","24px").attr("fill","#000");
  svg.append("text").attr("x",1138).attr("y",126.7+rowTop[r]).text("Expression").style("font-size","24px").attr("fill","#000");
  svg.append("rect").attr("x",1138.3).attr("y",bt).attr("width",42.4).attr("height",bb-bt).attr("fill","url(#plasmaGrad)");
  legendTicks.forEach(v=>{
    const y = ly(Math.log10(v));
    svg.append("line").attr("x1",1138.3).attr("x2",1146.8).attr("y1",y).attr("y2",y).attr("stroke","#fff").attr("stroke-width",1.2);
    svg.append("line").attr("x1",1172.2).attr("x2",1180.7).attr("y1",y).attr("y2",y).attr("stroke","#fff").attr("stroke-width",1.2);
    svg.append("text").attr("x",1195).attr("y",y).attr("dy","0.36em").text(String(v)).style("font-size","23.5px").attr("fill","#000");
  });
}

// ---------- CAPTION ----------
const captionLines = [
  [[["Fig. 5","B"],[" Volcano plots ("],["a","B"],["-"],["i","B"],[") for differentially expressed genes showing genes with large fold changes that are also statistically significant. Horizontal"]],1272],
  [[["lines indicate -log"],["10","S"],["("],["P","I"],["adj.","IS"],[") = 0.05, and points above the line represent genes with statistically significant differential expression. Vertical lines"]],1208],
  [[["differential expression with the value of log"],["2","S"],[" fold change of 1 (i.e. absolute fold change = 2) and FDR = 0.05. Upregulated and downregulated"]],1240],
  [[["genes are on the right side and left side of the vertical lines, respectively, and statistically significant genes are above horizontal lines. Rows in the"]],1277],
  [[["panel top to bottom are bodies, heads, and ovaries; columns left to right are DR vs C, HS vs C, DR, vs HS; color of points represent log"],["10","S"],[" of base"]],1263],
  [[["mean expression"]],171]
];
const capY = [1207.3,1234,1260.3,1286.6,1312.9,1339.2];
captionLines.forEach(([parts,right],i)=>{
  const g = svg.append("g").attr("transform",`translate(31,${capY[i]})`);
  const t = g.append("text").attr("x",0).attr("y",0).style("font-family",'"Open Sans",sans-serif').style("font-size","17.5px").attr("fill","#231f20");
  subText(t,parts,12.5,4);
  const w = t.node().getComputedTextLength();
  g.attr("transform",`translate(31,${capY[i]}) scale(${(right-31)/w},1)`);
});
</script></body></html>
